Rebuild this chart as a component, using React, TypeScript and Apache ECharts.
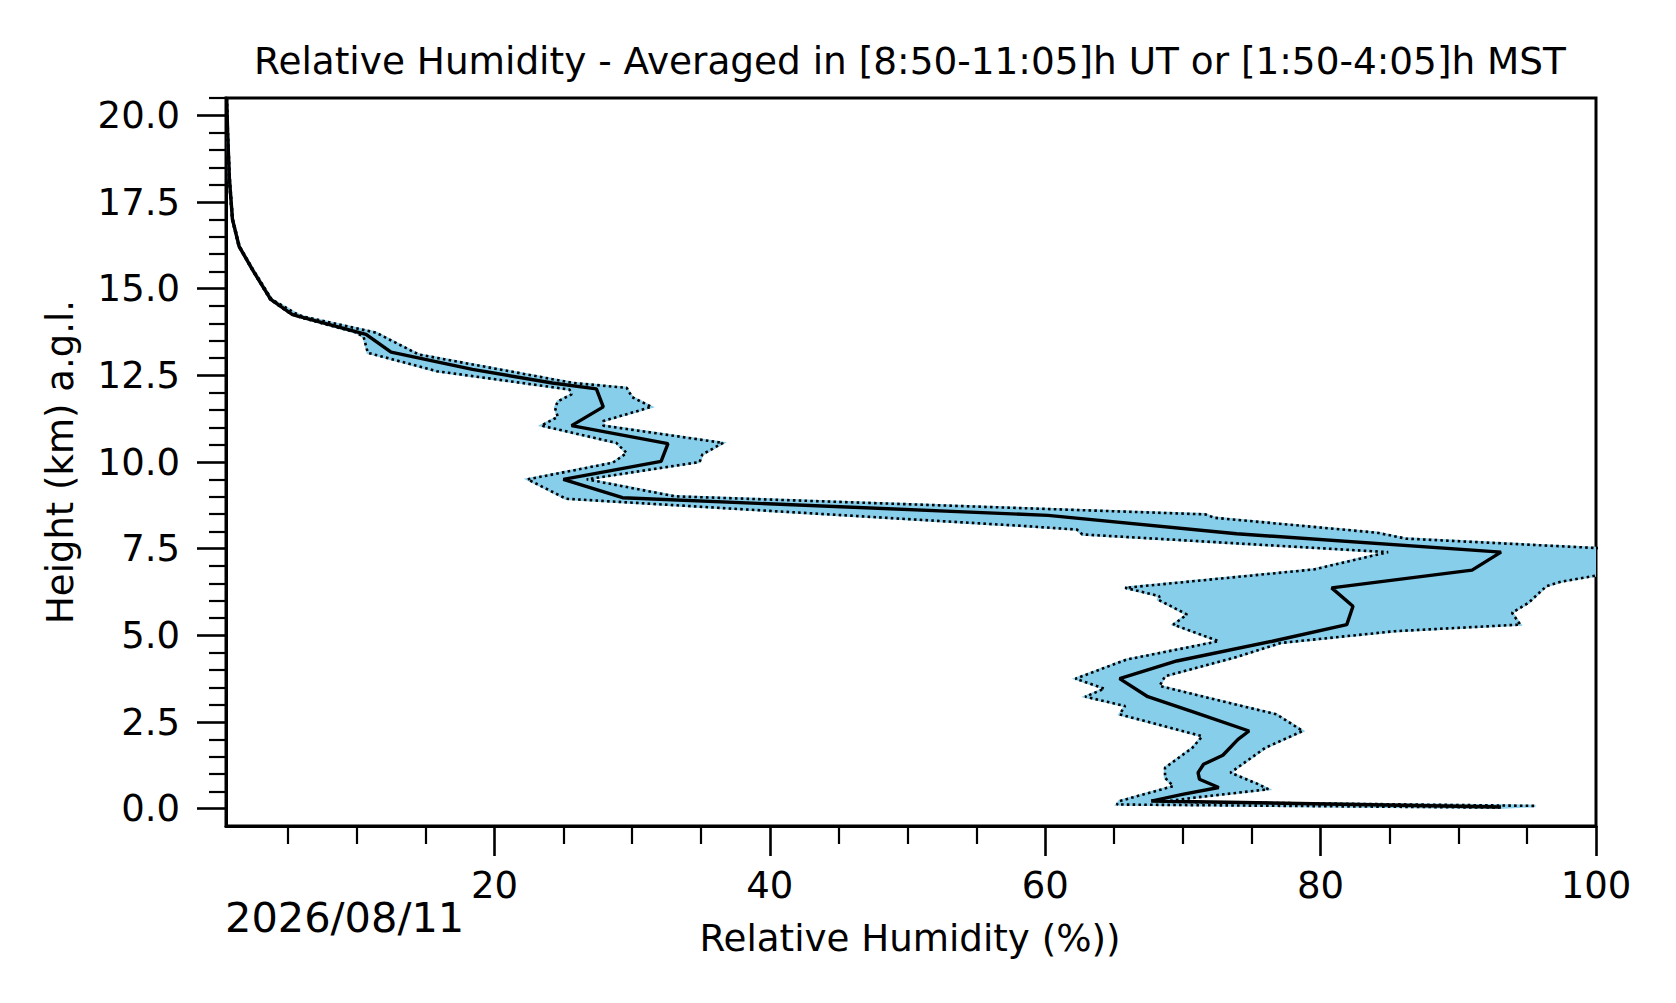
import React, { useEffect, useRef } from "react";
import * as echarts from "echarts";

const TITLE = "Relative Humidity - Averaged in [8:50-11:05]h UT or [1:50-4:05]h MST";
const X_LABEL = "Relative Humidity (%))";
const Y_LABEL = "Height (km) a.g.l.";
const DATE_LABEL = "2026/08/11";

const X_MIN = 0.5;
const X_MAX = 100;
const Y_MIN = -0.5;
const Y_MAX = 20.5;

const X_MAJOR = [20, 40, 60, 80, 100];
const X_MINOR = [5, 10, 15, 25, 30, 35, 45, 50, 55, 65, 70, 75, 85, 90, 95];
const Y_MAJOR = [0, 2.5, 5, 7.5, 10, 12.5, 15, 17.5, 20];
const Y_MINOR = [
  0.5, 1, 1.5, 2, 3, 3.5, 4, 4.5, 5.5, 6, 6.5, 7, 8, 8.5, 9, 9.5, 10.5, 11,
  11.5, 12, 13, 13.5, 14, 14.5, 15.5, 16, 16.5, 17, 18, 18.5, 19, 19.5, 20.5,
];

// [height (km), relative humidity (%)]
const MEAN_PROFILE: [number, number][] = [
  [20.5, 0.55], [19.5, 0.62], [18.15, 0.75], [17.0, 0.97], [16.22, 1.45],
  [15.55, 2.42], [14.69, 3.75], [14.25, 5.33], [14.2, 5.8], [13.68, 10.67],
  [13.17, 12.49], [12.67, 18.4], [12.28, 24.2], [12.11, 27.4], [11.59, 27.9],
  [11.05, 25.6], [10.53, 32.6], [10.02, 32.1], [9.5, 25.0], [8.97, 29.3],
  [8.46, 60.2], [7.93, 73.9], [7.4, 93.1], [6.88, 91.0], [6.37, 80.8],
  [5.84, 82.35], [5.31, 81.9], [4.83, 76.5], [4.26, 69.55], [3.75, 65.4],
  [3.23, 67.45], [2.77, 70.9], [2.24, 74.8], [2.0, 74.0], [1.54, 72.9],
  [1.28, 71.5], [1.04, 71.1], [0.85, 71.2], [0.61, 72.6], [0.41, 69.96],
  [0.22, 67.7], [0.05, 93.1],
];

const LOWER_PROFILE: [number, number][] = [
  [20.5, 0.53], [19.5, 0.6], [18.15, 0.72], [17.0, 0.94], [16.22, 1.42],
  [15.55, 2.39], [14.69, 3.7], [14.3, 5.1], [14.2, 5.65], [13.73, 10.0],
  [13.6, 10.5], [13.15, 10.8], [12.62, 15.8], [12.09, 25.45], [11.95, 25.6],
  [11.75, 24.6], [11.56, 24.4], [11.3, 24.6], [11.05, 23.4], [10.55, 28.85],
  [10.26, 29.6], [9.98, 28.6], [9.5, 22.4], [8.94, 25.2], [8.15, 58.6],
  [8.05, 62.3], [7.91, 62.7], [7.4, 84.9], [7.28, 83.6], [6.9, 79.5],
  [6.37, 65.8], [6.13, 68.3], [6.03, 68.2], [5.6, 70.3], [5.31, 69.3],
  [4.83, 72.6], [4.3, 65.9], [3.75, 62.2], [3.46, 64.3], [3.23, 62.9],
  [2.96, 65.8], [2.72, 65.4], [2.09, 71.4], [1.76, 70.7], [1.18, 68.7],
  [0.89, 68.7], [0.65, 69.3], [0.22, 65.4], [0.12, 65.2], [0.03, 93.0],
];

const UPPER_PROFILE: [number, number][] = [
  [20.5, 0.57], [19.5, 0.64], [18.15, 0.78], [17.0, 1.0], [16.22, 1.49],
  [15.55, 2.47], [14.69, 3.82], [14.3, 5.5], [14.2, 6.05], [13.73, 11.4],
  [13.1, 14.5], [12.28, 25.7], [12.14, 29.6], [11.87, 30.0], [11.59, 31.4],
  [11.18, 27.9], [11.05, 27.9], [10.55, 36.6], [10.22, 35.1], [10.0, 34.9],
  [9.5, 26.7], [9.01, 33.1], [8.49, 71.6], [8.39, 72.3], [7.96, 84.1],
  [7.79, 86.2], [7.48, 102], [7.0, 104], [6.76, 100.5], [6.55, 97.5],
  [6.42, 96.4], [5.94, 95.1], [5.65, 93.9], [5.31, 94.5], [5.12, 85.4],
  [4.78, 77.1], [4.35, 73.7], [3.82, 68.7], [3.54, 68.3], [3.2, 71.8],
  [2.72, 76.8], [2.24, 78.7], [1.76, 76.0], [1.04, 73.45], [0.7, 75.5],
  [0.56, 76.2], [0.32, 70.9], [0.2, 68.6], [0.08, 95.6],
];

const FONT = "DejaVu Sans";
const BAND_COLOR = "#87CEEB";

const toXY = (p: [number, number][]) => p.map(([h, v]) => [v, h]);

export default function App() {
  const ref = useRef<HTMLDivElement>(null);

  useEffect(() => {
    if (!ref.current) return;
    const chart = echarts.init(ref.current, null, { renderer: "svg" });

    const axisFont = { fontSize: 37, fontFamily: FONT, color: "#000" };
    const dotted = { color: "#000", width: 2.6, type: [2.6, 3.2] };

    const option: any = {
      animation: false,
      backgroundColor: "#fff",
      grid: {
        left: 226,
        right: 80,
        top: 98,
        bottom: 177,
        show: true,
        borderColor: "#000",
        borderWidth: 3,
        backgroundColor: "transparent",
      },
      xAxis: [
        {
          type: "value",
          min: X_MIN,
          max: X_MAX,
          position: "bottom",
          axisLine: { show: true, onZero: false, lineStyle: { color: "#000", width: 3 } },
          axisTick: {
            show: true,
            customValues: X_MAJOR,
            length: 30,
            lineStyle: { color: "#000", width: 2.6 },
          },
          axisLabel: { ...axisFont, customValues: X_MAJOR, margin: 41 },
          splitLine: { show: false },
        },
        {
          type: "value",
          min: X_MIN,
          max: X_MAX,
          position: "bottom",
          axisLine: { show: false, onZero: false },
          axisTick: {
            show: true,
            customValues: X_MINOR,
            length: 18,
            lineStyle: { color: "#000", width: 2.2 },
          },
          axisLabel: { show: false },
          splitLine: { show: false },
        },
      ],
      yAxis: [
        {
          type: "value",
          min: Y_MIN,
          max: Y_MAX,
          position: "left",
          axisLine: { show: true, onZero: false, lineStyle: { color: "#000", width: 3 } },
          axisTick: {
            show: true,
            customValues: Y_MAJOR,
            length: 29,
            lineStyle: { color: "#000", width: 2.6 },
          },
          axisLabel: {
            ...axisFont,
            customValues: Y_MAJOR,
            margin: 46,
            formatter: (v: number) => v.toFixed(1),
          },
          splitLine: { show: false },
        },
        {
          type: "value",
          min: Y_MIN,
          max: Y_MAX,
          position: "left",
          axisLine: { show: false, onZero: false },
          axisTick: {
            show: true,
            customValues: Y_MINOR,
            length: 17,
            lineStyle: { color: "#000", width: 2.2 },
          },
          axisLabel: { show: false },
          splitLine: { show: false },
        },
      ],
      series: [
        {
          type: "custom",
          xAxisIndex: 0,
          yAxisIndex: 0,
          clip: true,
          z: 1,
          data: [[50, 10]],
          renderItem: (_params: any, api: any) => {
            const pts = [
              ...UPPER_PROFILE.map(([h, v]) => api.coord([v, h])),
              ...LOWER_PROFILE.slice()
                .reverse()
                .map(([h, v]) => api.coord([v, h])),
            ];
            return {
              type: "polygon",
              shape: { points: pts },
              style: { fill: BAND_COLOR, stroke: BAND_COLOR, lineWidth: 2.5 },
            };
          },
        },
        {
          type: "line",
          xAxisIndex: 0,
          yAxisIndex: 0,
          data: toXY(LOWER_PROFILE),
          symbol: "none",
          z: 2,
          lineStyle: dotted,
        },
        {
          type: "line",
          xAxisIndex: 0,
          yAxisIndex: 0,
          data: toXY(UPPER_PROFILE),
          symbol: "none",
          z: 2,
          lineStyle: dotted,
        },
        {
          type: "line",
          xAxisIndex: 0,
          yAxisIndex: 0,
          data: toXY(MEAN_PROFILE),
          symbol: "none",
          z: 3,
          lineStyle: { color: "#000", width: 3.4 },
        },
      ],
      graphic: [
        {
          type: "text",
          x: 910,
          y: 61,
          style: {
            text: TITLE,
            align: "center",
            verticalAlign: "middle",
            fontSize: 37.4,
            fontFamily: FONT,
            fill: "#000",
          },
        },
        {
          type: "text",
          x: 910,
          y: 938,
          style: {
            text: X_LABEL,
            align: "center",
            verticalAlign: "middle",
            fontSize: 37.2,
            fontFamily: FONT,
            fill: "#000",
          },
        },
        {
          type: "text",
          x: 60,
          y: 462,
          rotation: Math.PI / 2,
          style: {
            text: Y_LABEL,
            align: "center",
            verticalAlign: "middle",
            fontSize: 37,
            fontFamily: FONT,
            fill: "#000",
          },
        },
        {
          type: "text",
          x: 225,
          y: 917,
          style: {
            text: DATE_LABEL,
            align: "left",
            verticalAlign: "middle",
            fontSize: 41.5,
            fontFamily: FONT,
            fill: "#000",
          },
        },
      ],
    };

    chart.setOption(option);
    return () => chart.dispose();
  }, []);

  return (
    <div
      ref={ref}
      style={{ position: "absolute", left: 0, top: 0, width: 1676, height: 1003 }}
    />
  );
}
